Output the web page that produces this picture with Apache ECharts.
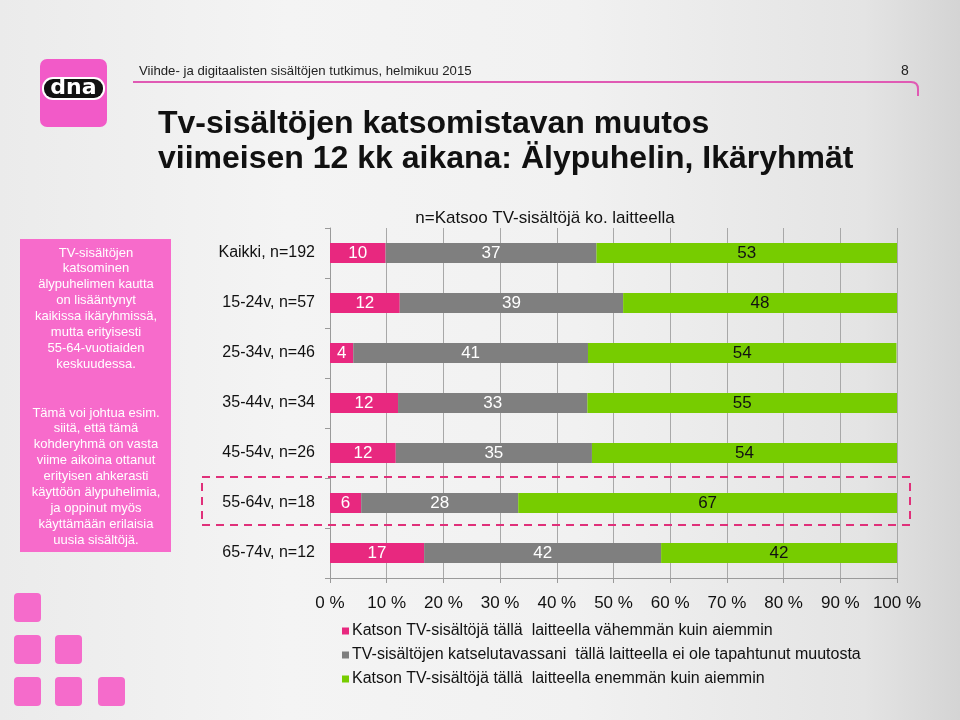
<!DOCTYPE html>
<html>
<head>
<meta charset="utf-8">
<script src="https://cdn.jsdelivr.net/npm/echarts@6/dist/echarts.min.js"></script>
<style>
html,body{margin:0;padding:0;}
#chart{width:960px;height:720px;background:linear-gradient(to right,#ebebeb 0%,#f4f4f4 30%,#f1f1f1 60%,#e4e4e4 90%,#d4d4d4 100%);}
</style>
</head>
<body>
<div id="chart"></div>
<script>
// ---- data (shares in %; labels show rounded values) ----
const categories = ['Kaikki, n=192','15-24v, n=57','25-34v, n=46','35-44v, n=34','45-54v, n=26','55-64v, n=18','65-74v, n=12'];
const lessValues = [9.8, 12.3, 4.1, 12.0, 11.6, 5.5, 16.6];
const sameValues = [37.2, 39.4, 41.4, 33.4, 34.6, 27.7, 41.8];
const moreValues = [53.0, 48.3, 54.4, 54.6, 53.8, 66.8, 41.6];
const seriesNames = [
  'Katson TV-sisältöjä tällä  laitteella vähemmän kuin aiemmin',
  'TV-sisältöjen katselutavassani  tällä laitteella ei ole tapahtunut muutosta',
  'Katson TV-sisältöjä tällä  laitteella enemmän kuin aiemmin'
];
const xTicks = [0,10,20,30,40,50,60,70,80,90,100];
const headerText = 'Viihde- ja digitaalisten sisältöjen tutkimus, helmikuu 2015';
const pageNumber = '8';
const titleLines = ['Tv-sisältöjen katsomistavan muutos','viimeisen 12 kk aikana: Älypuhelin, Ikäryhmät'];
const subTitle = 'n=Katsoo TV-sisältöjä ko. laitteella';
const para1 = ['TV-sisältöjen','katsominen','älypuhelimen kautta','on lisääntynyt','kaikissa ikäryhmissä,','mutta erityisesti','55-64-vuotiaiden','keskuudessa.'];
const para2 = ['Tämä voi johtua esim.','siitä, että tämä','kohderyhmä on vasta','viime aikoina ottanut','erityisen ahkerasti','käyttöön älypuhelimia,','ja oppinut myös','käyttämään erilaisia','uusia sisältöjä.'];

const FONT = '"Liberation Sans", Arial, sans-serif';
const colors = ['#E8287F', '#7F7F7F', '#77CC00'];
const labelColors = ['#ffffff', '#ffffff', '#111111'];

const chart = echarts.init(document.getElementById('chart'), null, {renderer:'canvas'});

const graphics = [];
// logo
graphics.push({type:'rect', shape:{x:40,y:59,width:67,height:68,r:7}, style:{fill:'#F25AC8'}});
graphics.push({type:'rect', shape:{x:42,y:77,width:63,height:23,r:11}, style:{fill:'#ffffff'}});
graphics.push({type:'rect', shape:{x:44,y:79,width:59,height:19,r:9}, style:{fill:'#111111'}});
graphics.push({type:'text', x:73.5, y:88, style:{text:'dna', fill:'#ffffff', font:'bold 22px "DejaVu Sans", sans-serif', textAlign:'center', textVerticalAlign:'middle'}});
// header
graphics.push({type:'text', x:139, y:71, style:{text:headerText, fill:'#222', font:'13.2px '+FONT, textAlign:'left', textVerticalAlign:'middle'}});
graphics.push({type:'text', x:905, y:71, style:{text:pageNumber, fill:'#222', font:'14px '+FONT, textAlign:'center', textVerticalAlign:'middle'}});
graphics.push({type:'polyline', shape:{points:[[133,82],[911,82]]}, style:{fill:null, stroke:'#E05AB4', lineWidth:2}});
graphics.push({type:'bezierCurve', shape:{x1:911,y1:82,x2:918,y2:89,cpx1:918,cpy1:82}, style:{fill:null, stroke:'#E05AB4', lineWidth:2}});
graphics.push({type:'polyline', shape:{points:[[918,89],[918,96]]}, style:{fill:null, stroke:'#E05AB4', lineWidth:2}});
// title
titleLines.forEach((t,i)=>{
  graphics.push({type:'text', x:158, y:124+i*35, style:{text:t, fill:'#111', font:'bold 32px '+FONT, textAlign:'left', textVerticalAlign:'middle'}});
});
graphics.push({type:'text', x:545, y:218, style:{text:subTitle, fill:'#111', font:'17px '+FONT, textAlign:'center', textVerticalAlign:'middle'}});
// left box
graphics.push({type:'rect', shape:{x:20,y:239,width:151,height:313}, style:{fill:'#F76BCB'}});
para1.forEach((t,i)=>{
  graphics.push({type:'text', x:96, y:253+i*15.9, style:{text:t, fill:'#ffffff', font:'13px '+FONT, textAlign:'center', textVerticalAlign:'middle'}});
});
para2.forEach((t,i)=>{
  graphics.push({type:'text', x:96, y:413+i*15.9, style:{text:t, fill:'#ffffff', font:'13px '+FONT, textAlign:'center', textVerticalAlign:'middle'}});
});
// dashed highlight
graphics.push({type:'rect', z:50, shape:{x:202,y:477,width:708,height:48}, style:{fill:null, stroke:'#E0307A', lineWidth:2, lineDash:[8,6]}});
// decorative squares
const sq = [[14,593],[14,635],[55,635],[14,677],[55,677],[98,677]];
sq.forEach(p=>{
  graphics.push({type:'rect', shape:{x:p[0],y:p[1],width:27,height:29,r:4}, style:{fill:'#F56BCB'}});
});

function mkSeries(idx, vals){
  return {
    name: seriesNames[idx], type:'bar', stack:'total', barWidth:20,
    data: vals, itemStyle:{color:colors[idx]},
    label:{show:true, position:'inside', color:labelColors[idx], fontSize:17, fontFamily:FONT,
      formatter: p => String(Math.round(p.value))}
  };
}

chart.setOption({
  animation:false,
  textStyle:{fontFamily:FONT},
  grid:{left:330, right:63, top:228, height:350, containLabel:false},
  legend:{
    orient:'vertical', left:337, top:618, itemWidth:7, itemHeight:7, itemGap:8, icon:'rect',
    textStyle:{fontSize:16, color:'#111', fontFamily:FONT, lineHeight:16, padding:[0,0,0,-2]},
    data: seriesNames
  },
  xAxis:{
    type:'value', min:0, max:100, interval:10,
    axisLine:{show:true, lineStyle:{color:'#9a9a9a'}},
    axisTick:{show:true, length:5, lineStyle:{color:'#9a9a9a'}},
    splitLine:{show:true, lineStyle:{color:'#a8a8a8', width:1}},
    axisLabel:{formatter: v => (xTicks.indexOf(v) >= 0 ? v + ' %' : ''), fontSize:17, color:'#111', margin:17, fontFamily:FONT}
  },
  yAxis:{
    type:'category', data:categories, inverse:true,
    axisLine:{show:true, lineStyle:{color:'#9a9a9a'}},
    axisTick:{show:true, length:5, lineStyle:{color:'#9a9a9a'}},
    axisLabel:{fontSize:16, color:'#111', margin:15, fontFamily:FONT}
  },
  series:[mkSeries(0,lessValues), mkSeries(1,sameValues), mkSeries(2,moreValues)],
  graphic: graphics
});
</script>
</body>
</html>
